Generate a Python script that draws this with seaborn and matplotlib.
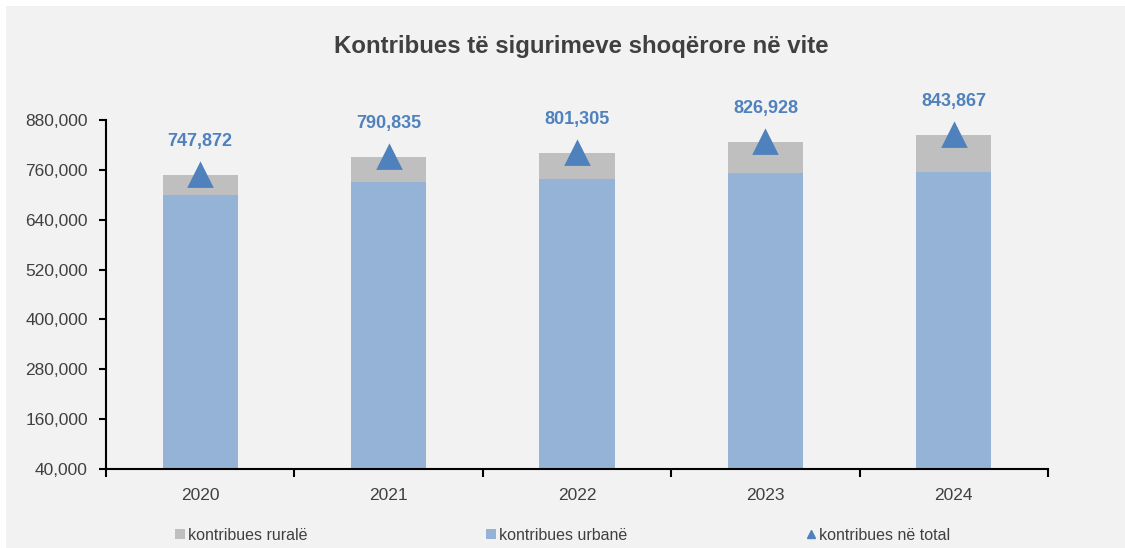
import matplotlib
matplotlib.use("Agg")
import matplotlib.pyplot as plt
import seaborn as sns
import pandas as pd
from matplotlib.patches import Patch, Rectangle
from matplotlib.lines import Line2D
from matplotlib.ticker import FuncFormatter, FixedLocator

years = ["2020", "2021", "2022", "2023", "2024"]
total = [747872, 790835, 801305, 826928, 843867]
urban = [699500, 731500, 738000, 751700, 755600]
y_ticks = [40000, 160000, 280000, 400000, 520000, 640000, 760000, 880000]

title = "Kontribues të sigurimeve shoqërore në vite"
lbl_rural = "kontribues ruralë"
lbl_urban = "kontribues urbanë"
lbl_total = "kontribues në total"

c_rural = "#bfbfbf"
c_urban = "#95b3d7"
c_total = "#4f81bd"
c_text = "#404040"
bg = "#f2f2f2"

df = pd.DataFrame({"year": years, "total": total, "urban": urban})

sns.set_theme(style="white")
plt.rcParams["font.family"] = ["Liberation Sans", "DejaVu Sans"]

fig = plt.figure(figsize=(11.25, 5.48), dpi=100, facecolor="white")
fig.patches.append(Rectangle((6 / 1125, 0), 1, 1 - 6 / 548, transform=fig.transFigure,
                             facecolor=bg, edgecolor="none", zorder=-10))
ax = fig.add_axes([106 / 1125, 1 - 469 / 548, (1048 - 106) / 1125, (469 - 120) / 548])
ax.set_facecolor(bg)

sns.barplot(data=df, x="year", y="total", color=c_rural, width=0.4, ax=ax,
            saturation=1, edgecolor="none", linewidth=0)
sns.barplot(data=df, x="year", y="urban", color=c_urban, width=0.4, ax=ax,
            saturation=1, edgecolor="none", linewidth=0)
sns.pointplot(data=df, x="year", y="total", color=c_total, markers="^",
              linestyle="none", errorbar=None, markersize=16, ax=ax, zorder=5)

for i, v in enumerate(total):
    ax.annotate(f"{v:,}", (i, v), xytext=(0, 24), textcoords="offset points",
                ha="center", va="center", fontsize=13, fontweight="bold", color=c_total)

ax.set_xlim(-0.5, 4.5)
ax.set_ylim(40000, 880000)
ax.yaxis.set_major_locator(FixedLocator(y_ticks))
ax.yaxis.set_major_formatter(FuncFormatter(lambda v, p: f"{int(v):,}"))
ax.set_xlabel("")
ax.set_ylabel("")

for s in ["top", "right"]:
    ax.spines[s].set_visible(False)
for s in ["left", "bottom"]:
    ax.spines[s].set_color("black")
    ax.spines[s].set_linewidth(1.5)

ax.tick_params(axis="y", which="major", direction="out", length=5, width=1.5,
               color="black", labelsize=12.5, labelcolor=c_text, pad=8, left=True)
ax.tick_params(axis="x", which="major", length=0, labelsize=12.5, labelcolor=c_text, pad=14)
ax.set_xticks([-0.5, 0.5, 1.5, 2.5, 3.5, 4.5], minor=True)
ax.tick_params(axis="x", which="minor", direction="out", length=6, width=1.5,
               color="black", bottom=True)

ax.set_title(title, fontsize=17.3, fontweight="bold", color=c_text, pad=48,
             x=0.505)

handles = [
    Patch(facecolor=c_rural, edgecolor="none"),
    Patch(facecolor=c_urban, edgecolor="none"),
    Line2D([], [], marker="^", color=c_total, linestyle="none", markersize=6),
]
fig.legend(handles, [lbl_rural, lbl_urban, lbl_total], loc="center",
           bbox_to_anchor=(0.5, 1 - 535 / 548), ncol=3, frameon=False,
           fontsize=11.5, labelcolor=c_text, handlelength=0.6, handleheight=0.6,
           handletextpad=0.2, columnspacing=11.2)

fig.savefig("out.png", dpi=100, facecolor=fig.get_facecolor())
